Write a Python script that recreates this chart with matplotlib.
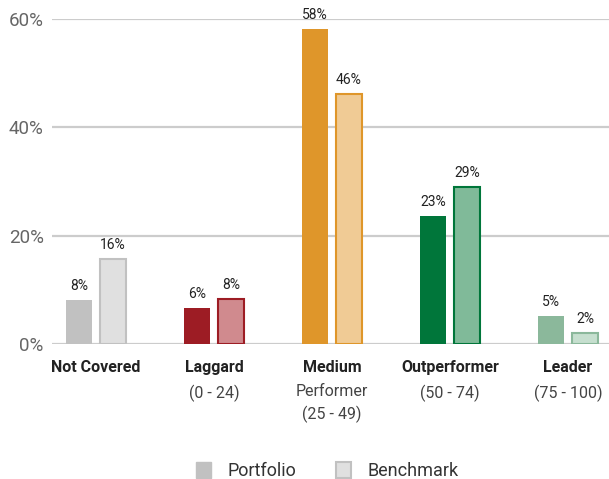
import matplotlib
matplotlib.use("Agg")
import matplotlib.pyplot as plt
from matplotlib.patches import Patch
import numpy as np

plt.rcParams["font.family"] = ["Roboto", "DejaVu Sans"]

categories = ["Not Covered", "Laggard", "Medium", "Outperformer", "Leader"]
sublabels = ["", "(0 - 24)", "Performer\n(25 - 49)", "(50 - 74)", "(75 - 100)"]
portfolio = [8.1, 6.6, 58.2, 23.6, 5.1]
benchmark = [15.7, 8.3, 46.2, 29.0, 2.1]
portfolio_labels = ["8%", "6%", "58%", "23%", "5%"]
benchmark_labels = ["16%", "8%", "46%", "29%", "2%"]
portfolio_colors = ["#c1c1c1", "#9d1c24", "#df962a", "#00763a", "#8bb89b"]
benchmark_colors = ["#e0e0e0", "#d08a8e", "#f0cb95", "#80ba99", "#c6dfcf"]

fig = plt.figure(figsize=(6.09, 4.79), dpi=100)
W, H = 609, 479
ax = fig.add_axes([52 / W, (H - 344) / H, (W - 52) / W, (344 - 19) / H])

x = np.arange(len(categories))
width = 0.215
offset = 0.144

ax.bar(x - offset, portfolio, width, color=portfolio_colors, zorder=3)
ax.bar(x + offset, benchmark, width, color=benchmark_colors,
       edgecolor=portfolio_colors, linewidth=1.5, zorder=3)

for i in range(len(categories)):
    ax.annotate(portfolio_labels[i], (x[i] - offset, portfolio[i]), xytext=(0, 5),
                textcoords="offset points", ha="center", va="bottom",
                fontsize=10, color="#222222")
    ax.annotate(benchmark_labels[i], (x[i] + offset, benchmark[i]), xytext=(0, 5),
                textcoords="offset points", ha="center", va="bottom",
                fontsize=10, color="#222222")
    ax.annotate(categories[i], (x[i], 0), xycoords=("data", "axes fraction"),
                xytext=(0, -17), textcoords="offset points", ha="center", va="center",
                fontsize=11.5, fontweight="bold", color="#222222")
    if sublabels[i]:
        ax.annotate(sublabels[i], (x[i], 0), xycoords=("data", "axes fraction"),
                    xytext=(0, -29), textcoords="offset points", ha="center", va="top",
                    fontsize=11.5, color="#444444", linespacing=1.5)

ax.set_xlim(-0.373, 4.347)
ax.set_ylim(0, 60)
ax.set_yticks([0, 20, 40, 60])
ax.set_yticklabels(["0%", "20%", "40%", "60%"], fontsize=13.5, color="#666666")
ax.set_xticks([])
ax.tick_params(axis="y", length=0, pad=6)
ax.grid(axis="y", color="#cccccc", linewidth=1.6, zorder=0)
ax.set_axisbelow(True)
for spine in ax.spines.values():
    spine.set_visible(False)

handles = [
    Patch(facecolor="#c1c1c1", edgecolor="#c1c1c1", label="Portfolio"),
    Patch(facecolor="#e0e0e0", edgecolor="#c1c1c1", linewidth=1.5, label="Benchmark"),
]
fig.legend(handles=handles, loc="center", bbox_to_anchor=(327 / W, 1 - 471 / H),
           ncol=2, frameon=False, fontsize=13, handlelength=0.85, handleheight=1.0,
           columnspacing=2.2, handletextpad=0.9, labelcolor="#333333")

fig.savefig("out.png", dpi=100)
